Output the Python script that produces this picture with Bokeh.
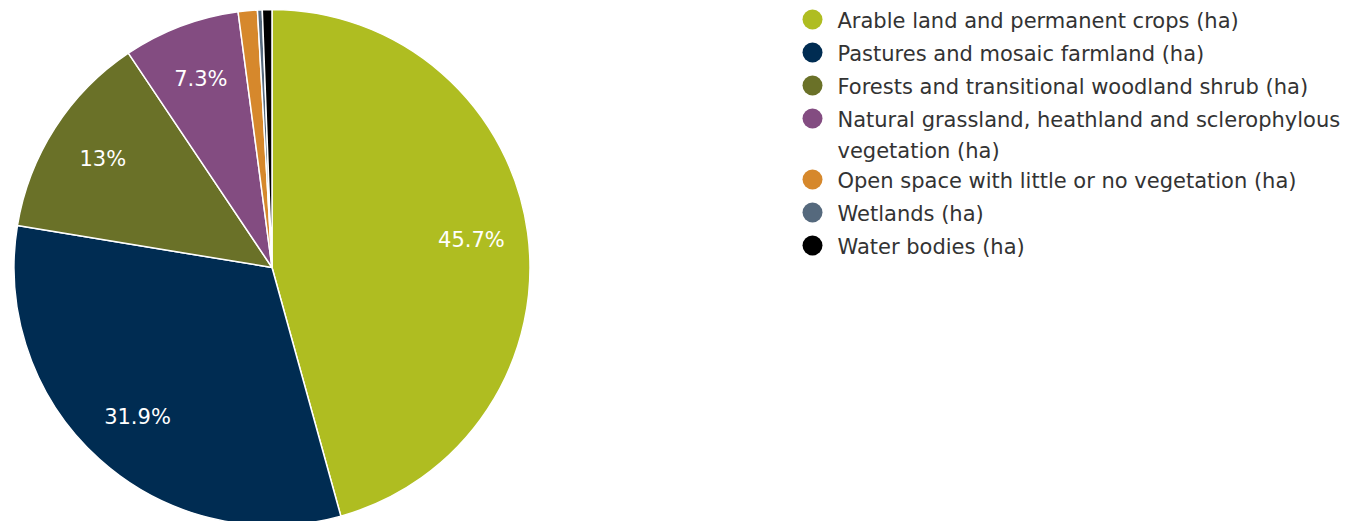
import numpy as np
from bokeh.plotting import figure
from bokeh.models import Range1d, ColumnDataSource
from bokeh.core.properties import value
from bokeh.embed import file_html
from bokeh.resources import INLINE

# Land cover shares (%)
categories = [
    "Arable land and permanent crops (ha)",
    "Pastures and mosaic farmland (ha)",
    "Forests and transitional woodland shrub (ha)",
    "Natural grassland, heathland and sclerophylous\nvegetation (ha)",
    "Open space with little or no vegetation (ha)",
    "Wetlands (ha)",
    "Water bodies (ha)",
]
shares = [45.7, 31.9, 13.0, 7.3, 1.2, 0.3, 0.6]
slice_labels = ["45.7%", "31.9%", "13%", "7.3%", "", "", ""]
colors = ["#afbd21", "#002c52", "#6a7128", "#834c81", "#d6882c", "#55697d", "#000000"]

W, H = 1351, 521
FONT = "DejaVu Sans"

p = figure(width=W, height=H, output_backend="svg", toolbar_location=None,
           x_range=Range1d(0, W), y_range=Range1d(0, H), min_border=0)
p.axis.visible = False
p.grid.visible = False
p.outline_line_color = None
p.background_fill_color = "white"

cx, cy, R = 271.5, H - 267.0, 258.0

vals = np.array(shares, dtype=float)
frac = vals / vals.sum()
cum = np.concatenate([[0.0], np.cumsum(frac)])
# clockwise from 12 o'clock
start = np.pi / 2 - cum[1:] * 2 * np.pi
end = np.pi / 2 - cum[:-1] * 2 * np.pi
mid = np.pi / 2 - (cum[:-1] + frac / 2) * 2 * np.pi

src = ColumnDataSource(dict(start=start, end=end, color=colors))
p.wedge(x=cx, y=cy, radius=R, start_angle="start", end_angle="end",
        fill_color="color", line_color="white", line_width=1.5, source=src)

lr = 0.78 * R
lab = ColumnDataSource(dict(x=cx + lr * np.cos(mid), y=cy + lr * np.sin(mid), t=slice_labels))
p.text(x="x", y="y", text="t", source=lab, text_color="white",
       text_font=value(FONT), text_font_size="21px",
       text_align="center", text_baseline="middle")

# legend
row_gap, wrap_gap = 33.0, 28.0
ys, y = [], H - 19.0
for c in categories:
    ys.append(y)
    y -= row_gap + wrap_gap * c.count("\n")
leg = ColumnDataSource(dict(x=[812.0] * len(categories), tx=[837.0] * len(categories),
                            y=ys, t=categories, color=colors))
p.scatter(x="x", y="y", source=leg, size=20, fill_color="color", line_color=None)
p.text(x="tx", y="y", text="t", source=leg, text_color="#333333",
       text_font=value(FONT), text_font_size="21px",
       text_align="left", text_baseline="top", y_offset=-11,
       text_line_height=1.33)

open("out.html", "w").write(file_html(p, INLINE))
